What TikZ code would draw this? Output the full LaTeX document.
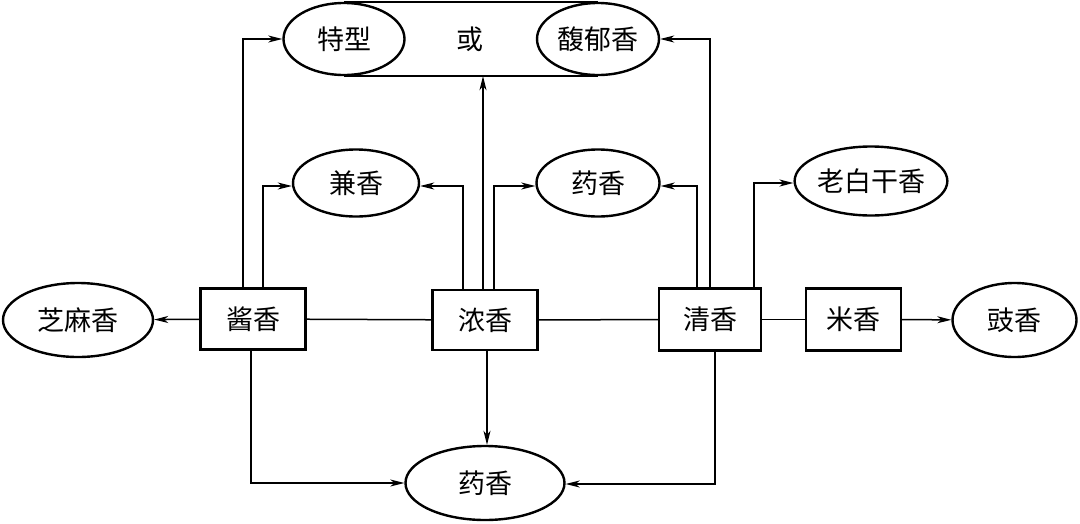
\documentclass[tikz,border=0pt]{standalone}
\usepackage{fontspec}
\newfontfamily\cjk{Noto Sans CJK SC}
\usetikzlibrary{shapes.geometric,arrows.meta}
\begin{document}
\begin{tikzpicture}[x=1pt,y=-1pt,
  font=\cjk\fontsize{27}{30}\selectfont,
  box/.style={draw,line width=2.4pt,inner sep=0pt},
  oval/.style={draw,ellipse,line width=2.4pt,inner sep=0pt},
  conn/.style={line width=1.5pt},
  arr/.style={conn,-{Stealth[length=14pt,width=7pt,inset=4pt]}}]
\useasboundingbox (0,0) rectangle (1080,523);
% boxes
\node[box,minimum width=105pt,minimum height=61pt] (jiang) at (253,319) {酱香};
\node[box,minimum width=105pt,minimum height=60pt] (nong) at (485,320) {浓香};
\node[box,minimum width=102pt,minimum height=62pt] (qing) at (710,319.5) {清香};
\node[box,minimum width=95pt,minimum height=62pt] (mi) at (853.5,319.5) {米香};
% ovals
\node[oval,minimum width=121pt,minimum height=72pt] (tx) at (344,39) {特型};
\node[oval,minimum width=122pt,minimum height=72pt] (fy) at (598,39) {馥郁香};
\node (huo) at (470,39) {或};
\node[oval,minimum width=126pt,minimum height=67pt] (jian) at (356,183) {兼香};
\node[oval,minimum width=123pt,minimum height=67pt] (yaot) at (598,183) {药香};
\node[oval,minimum width=130pt,minimum height=69pt] (lbg) at (871,181) {老白干香};
\node[oval,minimum width=150pt,minimum height=74pt] (zhm) at (78,320) {芝麻香};
\node[oval,minimum width=124pt,minimum height=74pt] (chi) at (1014.5,320) {豉香};
\node[oval,minimum width=159pt,minimum height=74pt] (yaob) at (485,483) {药香};
% stadium lines
\draw[line width=2.2pt] (tx.north) -- (fy.north);
\draw[line width=2.2pt] (tx.south) -- (fy.south);
% horizontal chain
\draw[conn] (jiang) -- (nong);
\draw[conn] (nong) -- (qing);
\draw[conn] (qing) -- (mi);
\draw[arr] (mi) -- (chi);
\draw[arr] (jiang) -- (zhm);
% upward connectors
\draw[arr] ([xshift=-10pt]jiang.north) |- (tx.west);
\draw[arr] ([xshift=10pt]jiang.north) |- ([yshift=-3pt]jian.west);
\draw[arr] ([xshift=-22pt]nong.north) |- ([yshift=-3pt]jian.east);
\draw[arr] ([xshift=-2pt]nong.north) -- ([xshift=-2pt]nong.north |- tx.south);
\draw[arr] ([xshift=9pt]nong.north) |- ([yshift=-3pt]yaot.west);
\draw[arr] ([xshift=-13pt]qing.north) |- ([yshift=-3pt]yaot.east);
\draw[arr] (qing.north) |- (fy.east);
\draw[arr] ([xshift=44pt]qing.north) |- ([yshift=-2pt]lbg.west);
% downward connectors
\draw[arr] ([xshift=2pt]nong.south) -- ([xshift=2pt]nong.south |- yaob.north);
\draw[arr] ([xshift=-2pt]jiang.south) |- (yaob.west);
\draw[arr] ([xshift=5pt]qing.south) |- ([yshift=-1pt]yaob.east);
\end{tikzpicture}
\end{document}
